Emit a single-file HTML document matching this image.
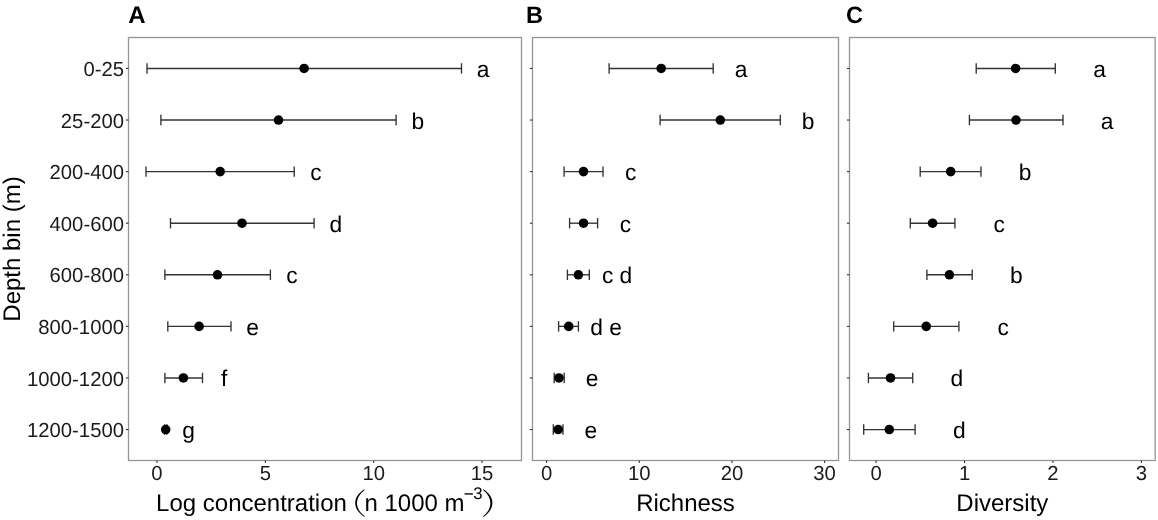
<!DOCTYPE html><html><head><meta charset="utf-8"><style>html,body{margin:0;padding:0;background:#fff;}svg{display:block;will-change:transform;}text{font-family:"Liberation Sans",sans-serif;text-rendering:geometricPrecision;}</style></head><body>
<svg width="1158" height="520" viewBox="0 0 1158 520">
<rect width="1158" height="520" fill="#fff"/>
<rect x="128.5" y="37.5" width="393.00" height="423.0" fill="none" stroke="#959595" stroke-width="1.3"/>
<line x1="125.90" y1="68.45" x2="128.5" y2="68.45" stroke="#333" stroke-width="1.1"/>
<line x1="125.90" y1="120.03" x2="128.5" y2="120.03" stroke="#333" stroke-width="1.1"/>
<line x1="125.90" y1="171.62" x2="128.5" y2="171.62" stroke="#333" stroke-width="1.1"/>
<line x1="125.90" y1="223.20" x2="128.5" y2="223.20" stroke="#333" stroke-width="1.1"/>
<line x1="125.90" y1="274.79" x2="128.5" y2="274.79" stroke="#333" stroke-width="1.1"/>
<line x1="125.90" y1="326.38" x2="128.5" y2="326.38" stroke="#333" stroke-width="1.1"/>
<line x1="125.90" y1="377.96" x2="128.5" y2="377.96" stroke="#333" stroke-width="1.1"/>
<line x1="125.90" y1="429.55" x2="128.5" y2="429.55" stroke="#333" stroke-width="1.1"/>
<line x1="157.00" y1="460.5" x2="157.00" y2="463.1" stroke="#333" stroke-width="1.1"/>
<text x="157.00" y="479.6" font-size="20.3" text-anchor="middle" fill="#1a1a1a">0</text>
<line x1="265.34" y1="460.5" x2="265.34" y2="463.1" stroke="#333" stroke-width="1.1"/>
<text x="265.34" y="479.6" font-size="20.3" text-anchor="middle" fill="#1a1a1a">5</text>
<line x1="373.67" y1="460.5" x2="373.67" y2="463.1" stroke="#333" stroke-width="1.1"/>
<text x="373.67" y="479.6" font-size="20.3" text-anchor="middle" fill="#1a1a1a">10</text>
<line x1="482.00" y1="460.5" x2="482.00" y2="463.1" stroke="#333" stroke-width="1.1"/>
<text x="482.00" y="479.6" font-size="20.3" text-anchor="middle" fill="#1a1a1a">15</text>
<g stroke="#333333" stroke-width="1.35" fill="none"><line x1="147.0" y1="68.45" x2="461.5" y2="68.45"/><line x1="147.0" y1="63.25" x2="147.0" y2="73.65"/><line x1="461.5" y1="63.25" x2="461.5" y2="73.65"/></g>
<circle cx="304.1" cy="68.45" r="4.8" fill="#000"/>
<text x="483.17" y="76.95" font-size="22.8" text-anchor="middle" fill="#000" xml:space="preserve">a</text>
<g stroke="#333333" stroke-width="1.35" fill="none"><line x1="160.9" y1="120.03" x2="396.1" y2="120.03"/><line x1="160.9" y1="114.83" x2="160.9" y2="125.23"/><line x1="396.1" y1="114.83" x2="396.1" y2="125.23"/></g>
<circle cx="278.5" cy="120.03" r="4.8" fill="#000"/>
<text x="417.77" y="128.53" font-size="22.8" text-anchor="middle" fill="#000" xml:space="preserve">b</text>
<g stroke="#333333" stroke-width="1.35" fill="none"><line x1="146.0" y1="171.62" x2="294.2" y2="171.62"/><line x1="146.0" y1="166.42" x2="146.0" y2="176.82"/><line x1="294.2" y1="166.42" x2="294.2" y2="176.82"/></g>
<circle cx="220.2" cy="171.62" r="4.8" fill="#000"/>
<text x="315.87" y="180.12" font-size="22.8" text-anchor="middle" fill="#000" xml:space="preserve">c</text>
<g stroke="#333333" stroke-width="1.35" fill="none"><line x1="170.5" y1="223.20" x2="314.1" y2="223.20"/><line x1="170.5" y1="218.00" x2="170.5" y2="228.40"/><line x1="314.1" y1="218.00" x2="314.1" y2="228.40"/></g>
<circle cx="242.0" cy="223.20" r="4.8" fill="#000"/>
<text x="335.77" y="231.70" font-size="22.8" text-anchor="middle" fill="#000" xml:space="preserve">d</text>
<g stroke="#333333" stroke-width="1.35" fill="none"><line x1="164.9" y1="274.79" x2="270.4" y2="274.79"/><line x1="164.9" y1="269.59" x2="164.9" y2="279.99"/><line x1="270.4" y1="269.59" x2="270.4" y2="279.99"/></g>
<circle cx="217.5" cy="274.79" r="4.8" fill="#000"/>
<text x="292.07" y="283.29" font-size="22.8" text-anchor="middle" fill="#000" xml:space="preserve">c</text>
<g stroke="#333333" stroke-width="1.35" fill="none"><line x1="167.8" y1="326.38" x2="231.0" y2="326.38"/><line x1="167.8" y1="321.18" x2="167.8" y2="331.57"/><line x1="231.0" y1="321.18" x2="231.0" y2="331.57"/></g>
<circle cx="199.1" cy="326.38" r="4.8" fill="#000"/>
<text x="252.67" y="334.88" font-size="22.8" text-anchor="middle" fill="#000" xml:space="preserve">e</text>
<g stroke="#333333" stroke-width="1.35" fill="none"><line x1="164.9" y1="377.96" x2="202.5" y2="377.96"/><line x1="164.9" y1="372.76" x2="164.9" y2="383.16"/><line x1="202.5" y1="372.76" x2="202.5" y2="383.16"/></g>
<circle cx="183.4" cy="377.96" r="4.8" fill="#000"/>
<text x="224.17" y="386.46" font-size="22.8" text-anchor="middle" fill="#000" xml:space="preserve">f</text>
<g stroke="#333333" stroke-width="1.35" fill="none"><line x1="164.5" y1="429.55" x2="166.9" y2="429.55"/><line x1="164.5" y1="424.35" x2="164.5" y2="434.75"/><line x1="166.9" y1="424.35" x2="166.9" y2="434.75"/></g>
<circle cx="165.7" cy="429.55" r="4.8" fill="#000"/>
<text x="188.57" y="438.05" font-size="22.8" text-anchor="middle" fill="#000" xml:space="preserve">g</text>
<text x="128.35" y="22.8" font-size="24" font-weight="bold" fill="#000">A</text>
<text x="156.1" y="510.6" font-size="24" fill="#000">Log concentration</text>
<path d="M364.3,489.3 C358.2,493.5 355.2,498 355.2,503.1 C355.2,508.2 358.2,512.7 364.3,516.9 L364.7,516.3 C359.6,512.3 357.0,508.0 357.0,503.1 C357.0,498.2 359.6,493.9 364.7,489.9 Z" fill="#000"/>
<text x="364.5" y="510.6" font-size="24" fill="#000">n 1000 m</text>
<rect x="464.6" y="493.15" width="8.3" height="1.5" fill="#1a1a1a"/>
<text x="473.2" y="498.5" font-size="16.8" fill="#000">3</text>
<path d="M483.5,489.3 C489.6,493.5 492.4,498 492.4,503.1 C492.4,508.2 489.6,512.7 483.5,516.9 L483.1,516.3 C488.0,512.3 490.4,508.0 490.4,503.1 C490.4,498.2 488.0,493.9 483.1,489.9 Z" fill="#000"/>
<rect x="532.5" y="37.5" width="306.00" height="423.0" fill="none" stroke="#959595" stroke-width="1.3"/>
<line x1="529.90" y1="68.45" x2="532.5" y2="68.45" stroke="#333" stroke-width="1.1"/>
<line x1="529.90" y1="120.03" x2="532.5" y2="120.03" stroke="#333" stroke-width="1.1"/>
<line x1="529.90" y1="171.62" x2="532.5" y2="171.62" stroke="#333" stroke-width="1.1"/>
<line x1="529.90" y1="223.20" x2="532.5" y2="223.20" stroke="#333" stroke-width="1.1"/>
<line x1="529.90" y1="274.79" x2="532.5" y2="274.79" stroke="#333" stroke-width="1.1"/>
<line x1="529.90" y1="326.38" x2="532.5" y2="326.38" stroke="#333" stroke-width="1.1"/>
<line x1="529.90" y1="377.96" x2="532.5" y2="377.96" stroke="#333" stroke-width="1.1"/>
<line x1="529.90" y1="429.55" x2="532.5" y2="429.55" stroke="#333" stroke-width="1.1"/>
<line x1="546.60" y1="460.5" x2="546.60" y2="463.1" stroke="#333" stroke-width="1.1"/>
<text x="546.60" y="479.6" font-size="20.3" text-anchor="middle" fill="#1a1a1a">0</text>
<line x1="639.27" y1="460.5" x2="639.27" y2="463.1" stroke="#333" stroke-width="1.1"/>
<text x="639.27" y="479.6" font-size="20.3" text-anchor="middle" fill="#1a1a1a">10</text>
<line x1="731.93" y1="460.5" x2="731.93" y2="463.1" stroke="#333" stroke-width="1.1"/>
<text x="731.93" y="479.6" font-size="20.3" text-anchor="middle" fill="#1a1a1a">20</text>
<line x1="824.60" y1="460.5" x2="824.60" y2="463.1" stroke="#333" stroke-width="1.1"/>
<text x="824.60" y="479.6" font-size="20.3" text-anchor="middle" fill="#1a1a1a">30</text>
<g stroke="#333333" stroke-width="1.35" fill="none"><line x1="609.1" y1="68.45" x2="713.2" y2="68.45"/><line x1="609.1" y1="63.25" x2="609.1" y2="73.65"/><line x1="713.2" y1="63.25" x2="713.2" y2="73.65"/></g>
<circle cx="661.2" cy="68.45" r="4.8" fill="#000"/>
<text x="741.00" y="76.95" font-size="22.8" text-anchor="middle" fill="#000" xml:space="preserve">a</text>
<g stroke="#333333" stroke-width="1.35" fill="none"><line x1="660.1" y1="120.03" x2="780.3" y2="120.03"/><line x1="660.1" y1="114.83" x2="660.1" y2="125.23"/><line x1="780.3" y1="114.83" x2="780.3" y2="125.23"/></g>
<circle cx="720.3" cy="120.03" r="4.8" fill="#000"/>
<text x="808.10" y="128.53" font-size="22.8" text-anchor="middle" fill="#000" xml:space="preserve">b</text>
<g stroke="#333333" stroke-width="1.35" fill="none"><line x1="564.1" y1="171.62" x2="603.0" y2="171.62"/><line x1="564.1" y1="166.42" x2="564.1" y2="176.82"/><line x1="603.0" y1="166.42" x2="603.0" y2="176.82"/></g>
<circle cx="583.5" cy="171.62" r="4.8" fill="#000"/>
<text x="630.80" y="180.12" font-size="22.8" text-anchor="middle" fill="#000" xml:space="preserve">c</text>
<g stroke="#333333" stroke-width="1.35" fill="none"><line x1="569.6" y1="223.20" x2="597.6" y2="223.20"/><line x1="569.6" y1="218.00" x2="569.6" y2="228.40"/><line x1="597.6" y1="218.00" x2="597.6" y2="228.40"/></g>
<circle cx="583.5" cy="223.20" r="4.8" fill="#000"/>
<text x="625.40" y="231.70" font-size="22.8" text-anchor="middle" fill="#000" xml:space="preserve">c</text>
<g stroke="#333333" stroke-width="1.35" fill="none"><line x1="567.4" y1="274.79" x2="589.3" y2="274.79"/><line x1="567.4" y1="269.59" x2="567.4" y2="279.99"/><line x1="589.3" y1="269.59" x2="589.3" y2="279.99"/></g>
<circle cx="578.4" cy="274.79" r="4.8" fill="#000"/>
<text x="617.10" y="283.29" font-size="22.8" text-anchor="middle" fill="#000" xml:space="preserve">c d</text>
<g stroke="#333333" stroke-width="1.35" fill="none"><line x1="558.6" y1="326.38" x2="578.4" y2="326.38"/><line x1="558.6" y1="321.18" x2="558.6" y2="331.57"/><line x1="578.4" y1="321.18" x2="578.4" y2="331.57"/></g>
<circle cx="568.7" cy="326.38" r="4.8" fill="#000"/>
<text x="606.20" y="334.88" font-size="22.8" text-anchor="middle" fill="#000" xml:space="preserve">d e</text>
<g stroke="#333333" stroke-width="1.35" fill="none"><line x1="554.2" y1="377.96" x2="564.2" y2="377.96"/><line x1="554.2" y1="372.76" x2="554.2" y2="383.16"/><line x1="564.2" y1="372.76" x2="564.2" y2="383.16"/></g>
<circle cx="559.0" cy="377.96" r="4.8" fill="#000"/>
<text x="592.00" y="386.46" font-size="22.8" text-anchor="middle" fill="#000" xml:space="preserve">e</text>
<g stroke="#333333" stroke-width="1.35" fill="none"><line x1="553.3" y1="429.55" x2="563.0" y2="429.55"/><line x1="553.3" y1="424.35" x2="553.3" y2="434.75"/><line x1="563.0" y1="424.35" x2="563.0" y2="434.75"/></g>
<circle cx="558.2" cy="429.55" r="4.8" fill="#000"/>
<text x="590.80" y="438.05" font-size="22.8" text-anchor="middle" fill="#000" xml:space="preserve">e</text>
<text x="526.10" y="22.8" font-size="23.5" font-weight="bold" fill="#000">B</text>
<text x="685.50" y="510.6" font-size="24" text-anchor="middle" fill="#000">Richness</text>
<rect x="849.5" y="37.5" width="305.65" height="423.0" fill="none" stroke="#959595" stroke-width="1.3"/>
<line x1="846.90" y1="68.45" x2="849.5" y2="68.45" stroke="#333" stroke-width="1.1"/>
<line x1="846.90" y1="120.03" x2="849.5" y2="120.03" stroke="#333" stroke-width="1.1"/>
<line x1="846.90" y1="171.62" x2="849.5" y2="171.62" stroke="#333" stroke-width="1.1"/>
<line x1="846.90" y1="223.20" x2="849.5" y2="223.20" stroke="#333" stroke-width="1.1"/>
<line x1="846.90" y1="274.79" x2="849.5" y2="274.79" stroke="#333" stroke-width="1.1"/>
<line x1="846.90" y1="326.38" x2="849.5" y2="326.38" stroke="#333" stroke-width="1.1"/>
<line x1="846.90" y1="377.96" x2="849.5" y2="377.96" stroke="#333" stroke-width="1.1"/>
<line x1="846.90" y1="429.55" x2="849.5" y2="429.55" stroke="#333" stroke-width="1.1"/>
<line x1="876.10" y1="460.5" x2="876.10" y2="463.1" stroke="#333" stroke-width="1.1"/>
<text x="876.10" y="479.6" font-size="20.3" text-anchor="middle" fill="#1a1a1a">0</text>
<line x1="964.53" y1="460.5" x2="964.53" y2="463.1" stroke="#333" stroke-width="1.1"/>
<text x="964.53" y="479.6" font-size="20.3" text-anchor="middle" fill="#1a1a1a">1</text>
<line x1="1052.96" y1="460.5" x2="1052.96" y2="463.1" stroke="#333" stroke-width="1.1"/>
<text x="1052.96" y="479.6" font-size="20.3" text-anchor="middle" fill="#1a1a1a">2</text>
<line x1="1141.39" y1="460.5" x2="1141.39" y2="463.1" stroke="#333" stroke-width="1.1"/>
<text x="1141.39" y="479.6" font-size="20.3" text-anchor="middle" fill="#1a1a1a">3</text>
<g stroke="#333333" stroke-width="1.35" fill="none"><line x1="976.2" y1="68.45" x2="1055.3" y2="68.45"/><line x1="976.2" y1="63.25" x2="976.2" y2="73.65"/><line x1="1055.3" y1="63.25" x2="1055.3" y2="73.65"/></g>
<circle cx="1015.6" cy="68.45" r="4.8" fill="#000"/>
<text x="1099.51" y="76.95" font-size="22.8" text-anchor="middle" fill="#000" xml:space="preserve">a</text>
<g stroke="#333333" stroke-width="1.35" fill="none"><line x1="969.4" y1="120.03" x2="1063.0" y2="120.03"/><line x1="969.4" y1="114.83" x2="969.4" y2="125.23"/><line x1="1063.0" y1="114.83" x2="1063.0" y2="125.23"/></g>
<circle cx="1016.0" cy="120.03" r="4.8" fill="#000"/>
<text x="1107.21" y="128.53" font-size="22.8" text-anchor="middle" fill="#000" xml:space="preserve">a</text>
<g stroke="#333333" stroke-width="1.35" fill="none"><line x1="920.2" y1="171.62" x2="981.0" y2="171.62"/><line x1="920.2" y1="166.42" x2="920.2" y2="176.82"/><line x1="981.0" y1="166.42" x2="981.0" y2="176.82"/></g>
<circle cx="950.7" cy="171.62" r="4.8" fill="#000"/>
<text x="1025.21" y="180.12" font-size="22.8" text-anchor="middle" fill="#000" xml:space="preserve">b</text>
<g stroke="#333333" stroke-width="1.35" fill="none"><line x1="910.3" y1="223.20" x2="954.9" y2="223.20"/><line x1="910.3" y1="218.00" x2="910.3" y2="228.40"/><line x1="954.9" y1="218.00" x2="954.9" y2="228.40"/></g>
<circle cx="932.6" cy="223.20" r="4.8" fill="#000"/>
<text x="999.12" y="231.70" font-size="22.8" text-anchor="middle" fill="#000" xml:space="preserve">c</text>
<g stroke="#333333" stroke-width="1.35" fill="none"><line x1="926.9" y1="274.79" x2="972.2" y2="274.79"/><line x1="926.9" y1="269.59" x2="926.9" y2="279.99"/><line x1="972.2" y1="269.59" x2="972.2" y2="279.99"/></g>
<circle cx="949.4" cy="274.79" r="4.8" fill="#000"/>
<text x="1016.42" y="283.29" font-size="22.8" text-anchor="middle" fill="#000" xml:space="preserve">b</text>
<g stroke="#333333" stroke-width="1.35" fill="none"><line x1="893.7" y1="326.38" x2="958.9" y2="326.38"/><line x1="893.7" y1="321.18" x2="893.7" y2="331.57"/><line x1="958.9" y1="321.18" x2="958.9" y2="331.57"/></g>
<circle cx="926.2" cy="326.38" r="4.8" fill="#000"/>
<text x="1003.12" y="334.88" font-size="22.8" text-anchor="middle" fill="#000" xml:space="preserve">c</text>
<g stroke="#333333" stroke-width="1.35" fill="none"><line x1="868.4" y1="377.96" x2="912.7" y2="377.96"/><line x1="868.4" y1="372.76" x2="868.4" y2="383.16"/><line x1="912.7" y1="372.76" x2="912.7" y2="383.16"/></g>
<circle cx="890.5" cy="377.96" r="4.8" fill="#000"/>
<text x="956.92" y="386.46" font-size="22.8" text-anchor="middle" fill="#000" xml:space="preserve">d</text>
<g stroke="#333333" stroke-width="1.35" fill="none"><line x1="863.7" y1="429.55" x2="915.1" y2="429.55"/><line x1="863.7" y1="424.35" x2="863.7" y2="434.75"/><line x1="915.1" y1="424.35" x2="915.1" y2="434.75"/></g>
<circle cx="889.3" cy="429.55" r="4.8" fill="#000"/>
<text x="959.32" y="438.05" font-size="22.8" text-anchor="middle" fill="#000" xml:space="preserve">d</text>
<text x="846.10" y="22.8" font-size="23.5" font-weight="bold" fill="#000">C</text>
<text x="1002.33" y="510.6" font-size="24" text-anchor="middle" fill="#000">Diversity</text>
<text x="124.0" y="76.15" font-size="20.3" text-anchor="end" fill="#1a1a1a">0-25</text>
<text x="124.0" y="127.73" font-size="20.3" text-anchor="end" fill="#1a1a1a">25-200</text>
<text x="124.0" y="179.32" font-size="20.3" text-anchor="end" fill="#1a1a1a">200-400</text>
<text x="124.0" y="230.90" font-size="20.3" text-anchor="end" fill="#1a1a1a">400-600</text>
<text x="124.0" y="282.49" font-size="20.3" text-anchor="end" fill="#1a1a1a">600-800</text>
<text x="124.0" y="334.07" font-size="20.3" text-anchor="end" fill="#1a1a1a">800-1000</text>
<text x="124.0" y="385.66" font-size="20.3" text-anchor="end" fill="#1a1a1a">1000-1200</text>
<text x="124.0" y="437.25" font-size="20.3" text-anchor="end" fill="#1a1a1a">1200-1500</text>
<text transform="translate(20.3,249.0) rotate(-90)" font-size="24" text-anchor="middle" fill="#000">Depth bin (m)</text>
</svg></body></html>
